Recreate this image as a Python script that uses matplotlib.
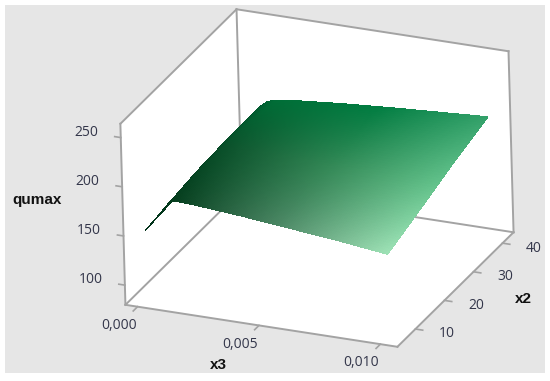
import matplotlib
matplotlib.use("Agg")
import matplotlib.pyplot as plt
import numpy as np
from matplotlib.patches import Rectangle
from mpl_toolkits.mplot3d import proj3d
from mpl_toolkits.mplot3d.art3d import Poly3DCollection

plt.rcParams['font.family'] = ['Open Sans', 'DejaVu Sans']

# values
x3_values = [0, 0.0003, 0.0006, 0.0009, 0.0012, 0.002, 0.004, 0.006, 0.008, 0.01]
x2_values = [7, 9, 18, 30, 42]
qumax_x2_7 = [148, 157, 166, 175, 183, 182, 178, 173, 168, 162]
qumax_x2_9 = [148.5, 158, 168, 177, 186, 184, 179.5, 174.5, 169.5, 164]
qumax_x2_18 = [151, 161, 171, 181, 187, 187, 183, 180, 177, 174]
qumax_x2_30 = [155, 165, 175, 183, 187, 188, 188, 188, 188, 188]
qumax_x2_42 = [159, 167, 175, 181, 183, 186, 190.5, 194, 197, 200]

# colour of the surface at a few places, x2 along rows, x3 along columns
colour_x3 = [0, 0.0012, 0.0055, 0.01]
colour_x2 = [7, 24, 42]
colour_x2_7 = [(0, 48, 24), (5, 62, 30), (75, 135, 100), (158, 226, 182)]
colour_x2_24 = [(0, 55, 28), (10, 80, 42), (50, 135, 85), (100, 195, 140)]
colour_x2_42 = [(0, 70, 40), (0, 110, 55), (0, 125, 65), (50, 160, 105)]

x3_ticks = [0.0, 0.005, 0.01]
x3_tick_labels = ["0,000", "0,005", "0,010"]
x2_ticks = [10, 20, 30, 40]
z_ticks = [100, 150, 200, 250]

x3_lim = (-0.0005, 0.0107)
x2_lim = (3.8, 43.8)
z_lim = (80, 264)

W, H = 550, 381
GREY = "#a3a3a3"
TEXT = "#33364a"


def refine(grid, xs, ys, fine_x, fine_y):
    # fine mesh only for smooth shading
    grid = np.asarray(grid, dtype=float)
    by_x = np.array([np.interp(fine_x, xs, row) for row in grid])
    return np.array([np.interp(fine_y, ys, by_x[:, i]) for i in range(len(fine_x))]).T


def label_at(x, y, z, s):
    # flat text placed at the projected 3d point
    xp, yp, _ = proj3d.proj_transform(x, y, z, ax.get_proj())
    ax.text2D(xp, yp, s, transform=ax.transData, ha="center", va="center",
              fontsize=10, color=TEXT, zorder=4)


fig = plt.figure(figsize=(W / 100, H / 100), dpi=100, facecolor="white")
fig.add_artist(Rectangle((4.5 / W, 1 - 373 / H), 540.5 / W, 368 / H,
                         transform=fig.transFigure, facecolor="#e6e6e6", edgecolor="none", zorder=-5))

side = 449
ax = fig.add_axes([86.4 / W, -27.6 / H, side / W, side / H], projection="3d")
ax.set_proj_type("ortho")
ax.view_init(elev=24.4, azim=-66.1, roll=1.6)
ax.set_box_aspect((296, 294.4, 198.8))
ax.set_xlim(*x3_lim, view_margin=0)
ax.set_ylim(*x2_lim, view_margin=0)
ax.set_zlim(*z_lim, view_margin=0)
ax.set_xticks([])
ax.set_yticks([])
ax.set_zticks([])
ax.set_axis_off()
ax.patch.set_alpha(0)
ax.computed_zorder = False

x0, x1 = x3_lim
y0, y1 = x2_lim
z0, z1 = z_lim

walls = [
    [(x0, y0, z0), (x1, y0, z0), (x1, y1, z0), (x0, y1, z0)],
    [(x0, y0, z0), (x0, y1, z0), (x0, y1, z1), (x0, y0, z1)],
    [(x0, y1, z0), (x1, y1, z0), (x1, y1, z1), (x0, y1, z1)],
]
ax.add_collection3d(Poly3DCollection(walls, facecolors="white", edgecolors="none", zorder=1))

edges = [
    [(x0, y0, z0), (x1, y0, z0)], [(x1, y0, z0), (x1, y1, z0)],
    [(x1, y1, z0), (x0, y1, z0)], [(x0, y1, z0), (x0, y0, z0)],
    [(x0, y0, z0), (x0, y0, z1)], [(x0, y1, z0), (x0, y1, z1)],
    [(x1, y1, z0), (x1, y1, z1)],
    [(x0, y0, z1), (x0, y1, z1)], [(x0, y1, z1), (x1, y1, z1)],
]
for a, b in edges:
    ax.plot(*zip(a, b), color=GREY, lw=1.4, zorder=2)

# surface
fine_x3 = np.linspace(0, 0.01, 140)
fine_x2 = np.linspace(7, 42, 60)
qumax = [qumax_x2_7, qumax_x2_9, qumax_x2_18, qumax_x2_30, qumax_x2_42]
Z = refine(qumax, x3_values, x2_values, fine_x3, fine_x2)
colours = np.array([colour_x2_7, colour_x2_24, colour_x2_42], dtype=float) / 255
C = np.dstack([refine(colours[:, :, i], colour_x3, colour_x2, fine_x3, fine_x2) for i in range(3)])
X, Y = np.meshgrid(fine_x3, fine_x2)
ax.plot_surface(X, Y, Z, facecolors=C, rstride=1, cstride=1, shade=False,
                linewidth=0, antialiased=False, zorder=3)

# ticks and their labels
for t, lab in zip(x3_ticks, x3_tick_labels):
    ax.plot([t, t], [y0, y0 - 1.5], [z0, z0], color=GREY, lw=1.2, zorder=2)
    label_at(t, y0 - 6.5, z0, lab)
for t in x2_ticks:
    ax.plot([x1, x1 + 0.0003], [t, t], [z0, z0], color=GREY, lw=1.2, zorder=2)
    label_at(x1 + 0.0013, t, z0, str(t))
for t in z_ticks:
    ax.plot([x0, x0 - 0.00025], [y0, y0], [t, t], color=GREY, lw=1.2, zorder=2)
    label_at(x0 - 0.00142, y0, t, str(t))

bold = dict(ha="center", va="center", fontsize=11, fontweight="bold", color="#111111", family="Liberation Sans")
fig.text(37 / W, 1 - 200 / H, "qumax", **bold)
fig.text(218 / W, 1 - 365 / H, "x3", **bold)
fig.text(523 / W, 1 - 299 / H, "x2", **bold)

fig.savefig("out.png", dpi=100)
